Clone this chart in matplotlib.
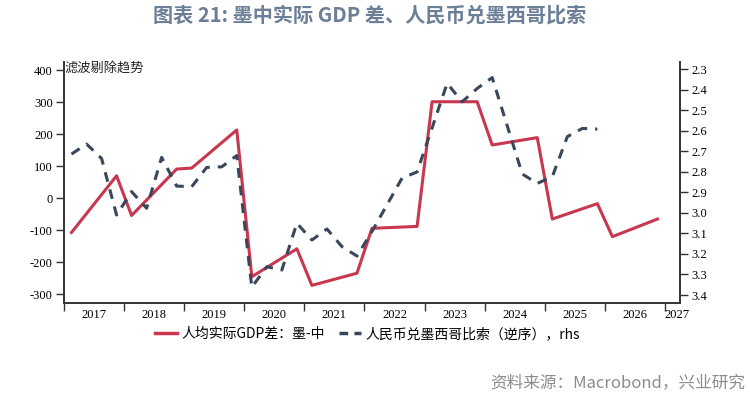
import numpy as np
import matplotlib
matplotlib.use('Agg')
import matplotlib.pyplot as plt
from matplotlib.ticker import FixedLocator, FixedFormatter
from matplotlib.lines import Line2D

plt.rcParams['font.family'] = ['Noto Sans CJK SC', 'DejaVu Sans']

# 人均实际GDP差：墨-中（左轴）
gdp_dates = [2017.125, 2017.875, 2018.125, 2018.875, 2019.125, 2019.875,
             2020.125, 2020.875, 2021.125, 2021.875, 2022.125, 2022.875,
             2023.125, 2023.875, 2024.125, 2024.875, 2025.125, 2025.875,
             2026.125, 2026.875]
gdp_diff = [-107, 70, -54, 91, 94, 213,
            -245, -158, -272, -234, -94, -88,
            301, 301, 166, 189, -65, -17,
            -120, -65]

# 人民币兑墨西哥比索（逆序，右轴），季度
fx_dates = [2017.125, 2017.375, 2017.625, 2017.875,
            2018.125, 2018.375, 2018.625, 2018.875,
            2019.125, 2019.375, 2019.625, 2019.875,
            2020.125, 2020.375, 2020.625, 2020.875,
            2021.125, 2021.375, 2021.625, 2021.875,
            2022.125, 2022.375, 2022.625, 2022.875,
            2023.125, 2023.375, 2023.625, 2023.875,
            2024.125, 2024.375, 2024.625, 2024.875,
            2025.125, 2025.375, 2025.625, 2025.875]
cny_mxn = [2.713, 2.664, 2.734, 3.010,
           2.896, 2.977, 2.729, 2.869,
           2.872, 2.778, 2.775, 2.720,
           3.362, 3.262, 3.278, 3.050,
           3.132, 3.078, 3.164, 3.210,
           3.090, 2.960, 2.830, 2.800,
           2.585, 2.368, 2.458, 2.393,
           2.340, 2.575, 2.810, 2.856,
           2.823, 2.628, 2.588, 2.591]

years = list(range(2017, 2028))
left_ticks = [-300, -200, -100, 0, 100, 200, 300, 400]
right_ticks = [2.3, 2.4, 2.5, 2.6, 2.7, 2.8, 2.9, 3.0, 3.1, 3.2, 3.3, 3.4]

red = '#c8374f'
navy = '#3a4659'
spine_c = '#333333'
num_font = 'Liberation Serif'

fig = plt.figure(figsize=(7.5, 3.99), dpi=100)
ax = fig.add_axes([0.0853, 0.2406, 0.8214, 0.604])
ax2 = ax.twinx()

ax.plot(gdp_dates, gdp_diff, color=red, lw=2.2, zorder=3)
ax2.plot(fx_dates, cny_mxn, color=navy, lw=2.2, ls=(0, (3.2, 2.6)), zorder=2)

ax.set_xlim(2017.0, 2027.25)
ax.set_ylim(-327, 425)
ax2.set_ylim(3.439, 2.264)

ax.set_yticks(left_ticks)
ax.set_yticklabels([str(v) for v in left_ticks], fontfamily=num_font, fontsize=9)
ax2.set_yticks(right_ticks)
ax2.set_yticklabels(['%.1f' % v for v in right_ticks], fontfamily=num_font, fontsize=9)

# 年份刻度在年界，标签居中
ax.xaxis.set_major_locator(FixedLocator(years))
ax.xaxis.set_major_formatter(FixedFormatter([''] * len(years)))
label_pos = [y + 0.5 for y in years[:-1]] + [2027.2]
ax.xaxis.set_minor_locator(FixedLocator(label_pos))
ax.xaxis.set_minor_formatter(FixedFormatter([str(y) for y in years]))
ax.tick_params(axis='x', which='major', length=6, width=1, color=spine_c, direction='out')
ax.tick_params(axis='x', which='minor', length=0, pad=4)
for lab in ax.get_xticklabels(minor=True):
    lab.set_fontfamily(num_font)
    lab.set_fontsize(9)

ax.tick_params(axis='y', length=6, width=1, color=spine_c, pad=2)
ax2.tick_params(axis='y', length=6, width=1, color=spine_c, pad=2)

for a in (ax, ax2):
    a.spines['top'].set_visible(False)
    for s in ('left', 'right', 'bottom'):
        a.spines[s].set_color(spine_c)
        a.spines[s].set_linewidth(1.2)

ax.text(0.0, 0.97, '滤波剔除趋势', transform=ax.transAxes, fontsize=9.5,
        ha='left', va='center', color='#222222')

fig.suptitle('图表 21: 墨中实际 GDP 差、人民币兑墨西哥比索', x=0.493, y=0.988,
             fontsize=14.5, fontweight='bold', color='#6b7f97')

handles = [Line2D([], [], color=red, lw=2.5),
           Line2D([], [], color=navy, lw=2.5, ls=(0, (2.5, 1.8)))]
fig.legend(handles, ['人均实际GDP差：墨-中', '人民币兑墨西哥比索（逆序），rhs'],
           loc='center', bbox_to_anchor=(0.49, 0.163), ncol=2, frameon=False,
           fontsize=10, handlelength=1.6, handletextpad=0.3, columnspacing=1.0)

fig.text(0.993, 0.04, '资料来源：Macrobond，兴业研究', ha='right', va='center',
         fontsize=12, color='#8c8c8c')

fig.savefig('out.png', dpi=100)
